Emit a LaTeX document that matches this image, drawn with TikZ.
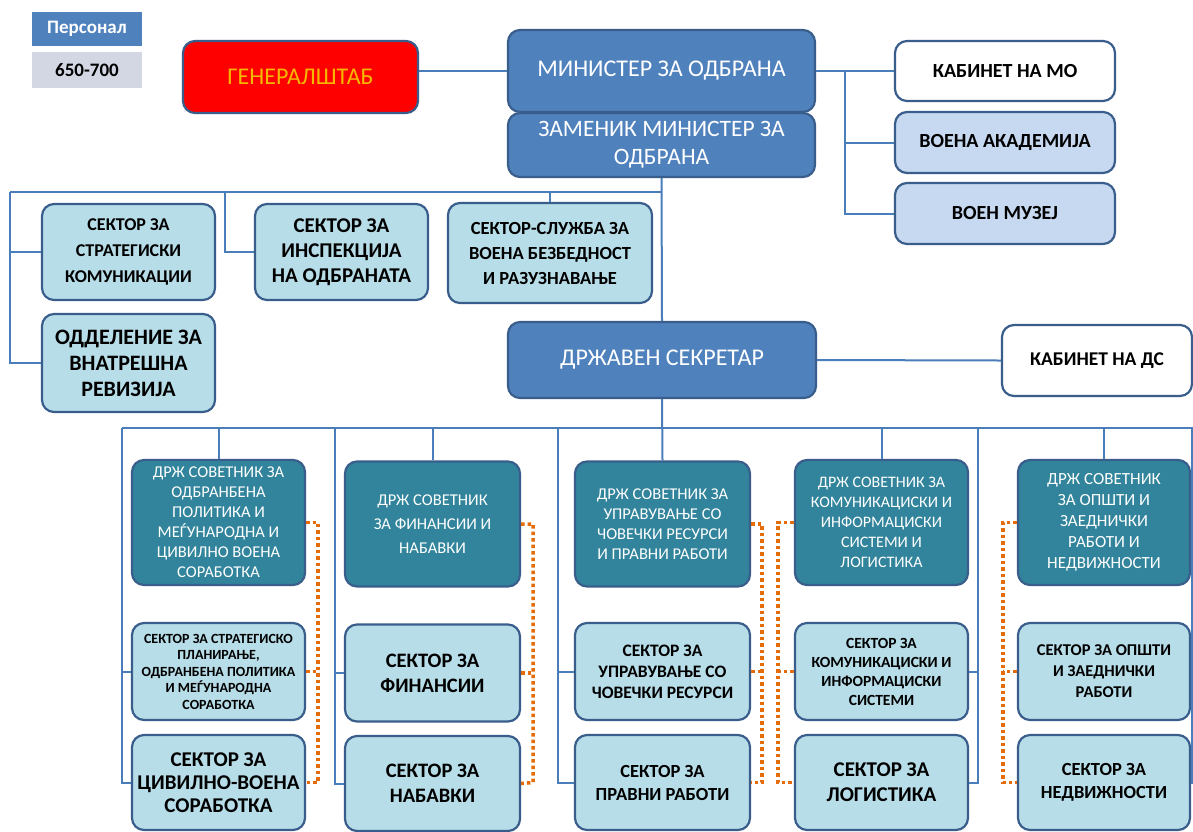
\documentclass[tikz,border=0pt]{standalone}
\usepackage{fontspec}
\setmainfont{Carlito}
\usepackage{xcolor}
\usepackage{tikz}
\usetikzlibrary{positioning,calc}

\definecolor{mainblue}{HTML}{4F81BD}
\definecolor{edgeblue}{HTML}{3A5E8C}
\definecolor{lineblue}{HTML}{4A7EBB}
\definecolor{advteal}{HTML}{31849B}
\definecolor{skyblue}{HTML}{B7DDE8}
\definecolor{paleblue}{HTML}{C6D9F1}
\definecolor{greyblue}{HTML}{D3D7E3}
\definecolor{gold}{HTML}{F5B800}
\definecolor{dotorange}{HTML}{E46C0A}

\newcommand{\fs}[2]{\fontsize{#1}{#2}\selectfont}

\begin{document}
\begin{tikzpicture}[
    x=1pt, y=-1pt,
    box/.style={draw=edgeblue, line width=2.2pt, rounded corners=12pt,
                fill=#1, align=center, inner sep=2pt},
    box/.default=white,
    sz/.style 2 args={minimum width=#1pt, minimum height=#2pt},
    chief/.style={box=mainblue, text=white, font=\fs{24}{28}},
    advisor/.style={box=advteal, text=white, font=\fs{16.5}{20}},
    sector/.style={box=skyblue, font=\bfseries\fs{18}{24}},
    office/.style={box=#1, font=\bfseries\fs{20}{24}},
    tag/.style={fill=#1, align=center, font=\bfseries\fs{19}{22}},
    link/.style={draw=lineblue, line width=2pt},
    dots/.style={draw=dotorange, line width=3.5pt, dash pattern=on 3.5pt off 3pt},
  ]
  \path[use as bounding box, fill=white] (0,0) rectangle (1193,831);

  % Legend
  \node[tag=mainblue, text=white, sz={110}{34}] (pers) at (87,29) {Персонал};
  \node[tag=greyblue, sz={110}{36}] (staff) at (87,70) {650-700};

  % Ministry
  \node[box=red, text=gold, font=\fs{24}{28}, sz={235}{72}] (gs) at (300.5,77) {ГЕНЕРАЛШТАБ};
  \node[chief, sz={307}{82}] (min) at (661.5,71) {МИНИСТЕР ЗА ОДБРАНА};
  \node[chief, font=\fs{23.5}{28}, sz={307}{64}] (dep) at (661.5,145) {ЗАМЕНИК МИНИСТЕР ЗА\\ОДБРАНА};
  \node[office=white, sz={220}{60}] (kmo) at (1005,71) {КАБИНЕТ НА МО};
  \node[office=paleblue, sz={220}{61}] (akad) at (1005,142.5) {ВОЕНА АКАДЕМИЈА};
  \node[office=paleblue, sz={220}{61}] (muz) at (1005,213.5) {ВОЕН МУЗЕЈ};

  % Sectors under the minister
  \node[sector, font=\bfseries\fs{18}{26}, sz={173}{96}] (skom) at (128.5,252) {СЕКТОР ЗА\\СТРАТЕГИСКИ\\КОМУНИКАЦИИ};
  \node[sector, font=\bfseries\fs{21}{25}, sz={173}{96}] (insp) at (341.5,252) {СЕКТОР ЗА\\ИНСПЕКЦИЈА\\НА ОДБРАНАТА};
  \node[sector, font=\bfseries\fs{18.5}{25}, sz={204}{100}] (sluz) at (550,253) {СЕКТОР-СЛУЖБА ЗА\\ВОЕНА БЕЗБЕДНОСТ\\И РАЗУЗНАВАЊЕ};
  \node[sector, font=\bfseries\fs{22}{26}, sz={173}{98}] (rev) at (128.5,363) {ОДДЕЛЕНИЕ ЗА\\ВНАТРЕШНА\\РЕВИЗИЈА};

  % State secretary
  \node[chief, sz={308}{76}] (ds) at (662,360) {ДРЖАВЕН СЕКРЕТАР};
  \node[office=white, font=\bfseries\fs{19.5}{24}, sz={190}{71}] (kds) at (1097,360.5) {КАБИНЕТ НА ДС};

  % Advisors
  \node[advisor, sz={173}{125}] (adv1) at (218.5,522.5) {ДРЖ СОВЕТНИК ЗА\\ОДБРАНБЕНА\\ПОЛИТИКА И\\МЕЃУНАРОДНА И\\ЦИВИЛНО ВОЕНА\\СОРАБОТКА};
  \node[advisor, font=\fs{16.5}{24}, sz={175}{125}] (adv2) at (432.5,524) {ДРЖ СОВЕТНИК\\ЗА ФИНАНСИИ И\\НАБАВКИ};
  \node[advisor, font=\fs{16.5}{20}, sz={175}{125}] (adv3) at (662.5,524) {ДРЖ СОВЕТНИК ЗА\\УПРАВУВАЊЕ СО\\ЧОВЕЧКИ РЕСУРСИ\\И ПРАВНИ РАБОТИ};
  \node[advisor, font=\fs{16}{20}, sz={173}{125}] (adv4) at (881.5,522.5) {ДРЖ СОВЕТНИК ЗА\\КОМУНИКАЦИСКИ И\\ИНФОРМАЦИСКИ\\СИСТЕМИ И\\ЛОГИСТИКА};
  \node[advisor, font=\fs{17}{21}, sz={172}{125}] (adv5) at (1104,522.5) {ДРЖ СОВЕТНИК\\ЗА ОПШТИ И\\ЗАЕДНИЧКИ\\РАБОТИ И\\НЕДВИЖНОСТИ};

  % Sectors under the advisors
  \node[sector, font=\bfseries\fs{14}{16.5}, sz={173}{97}] (s1a) at (218.5,671.5)
    {СЕКТОР ЗА СТРАТЕГИСКО\\ПЛАНИРАЊЕ,\\ОДБРАНБЕНА ПОЛИТИКА\\И МЕЃУНАРОДНА\\СОРАБОТКА};
  \node[sector, font=\bfseries\fs{21}{23}, sz={173}{95}] (s1b) at (218.5,782.5) {СЕКТОР ЗА\\ЦИВИЛНО-ВОЕНА\\СОРАБОТКА};
  \node[sector, font=\bfseries\fs{20.5}{25}, sz={175}{97}] (s2a) at (432.5,673) {СЕКТОР ЗА\\ФИНАНСИИ};
  \node[sector, font=\bfseries\fs{20.5}{25}, sz={175}{95}] (s2b) at (432.5,783.5) {СЕКТОР ЗА\\НАБАВКИ};
  \node[sector, font=\bfseries\fs{17.5}{21}, sz={175}{97}] (s3a) at (662.5,671.5) {СЕКТОР ЗА\\УПРАВУВАЊЕ СО\\ЧОВЕЧКИ РЕСУРСИ};
  \node[sector, font=\bfseries\fs{18.5}{23}, sz={175}{95}] (s3b) at (662.5,782.5) {СЕКТОР ЗА\\ПРАВНИ РАБОТИ};
  \node[sector, font=\bfseries\fs{15.5}{19}, sz={173}{97}] (s4a) at (881.5,671.5) {СЕКТОР ЗА\\КОМУНИКАЦИСКИ И\\ИНФОРМАЦИСКИ\\СИСТЕМИ};
  \node[sector, font=\bfseries\fs{21}{25}, sz={173}{95}] (s4b) at (881.5,782.5) {СЕКТОР ЗА\\ЛОГИСТИКА};
  \node[sector, font=\bfseries\fs{16.5}{21}, sz={172}{97}] (s5a) at (1104,671.5) {СЕКТОР ЗА ОПШТИ\\И ЗАЕДНИЧКИ\\РАБОТИ};
  \node[sector, font=\bfseries\fs{18.5}{23}, sz={172}{95}] (s5b) at (1104,782.5) {СЕКТОР ЗА\\НЕДВИЖНОСТИ};

  % Top links
  \draw[link] (gs.east |- min.west) -- (min.west);
  \draw[link] (min.east) -- (kmo.west);
  \coordinate (rbus) at (845,71);
  \draw[link] (rbus) |- (akad.west);
  \draw[link] (rbus) |- (muz.west);

  \coordinate (tbus) at (661.5,192);
  \coordinate (tl) at (10,192);
  \coordinate (ti) at (225,192);
  \draw[link] (dep.south) -- (ds.north);
  \draw[link] (tl) -- (tbus);
  \draw[link] (tl) |- (rev.west);
  \draw[link] (tl |- skom.west) -- (skom.west);
  \draw[link] (ti) |- (insp.west);
  \draw[link] (sluz.north) -- (sluz.north |- tbus);
  \draw[link] (ds.east) -- (kds.west);

  % Bottom links
  \coordinate (bl) at (122,428);
  \coordinate (br) at (1193,428);
  \draw[link] (bl) -- (br);
  \draw[link] (ds.south) -- (adv3.north);
  \foreach \n in {1,2,4,5}
    \draw[link] (adv\n.north) -- (adv\n.north |- bl);
  \coordinate (t1) at (122,428);
  \coordinate (t2) at (335,428);
  \coordinate (t3) at (558,428);
  \coordinate (t4) at (978,428);
  \coordinate (t5) at (1192,428);
  \foreach \n in {1,2,3} {
    \draw[link] (t\n) |- (s\n b.west);
    \draw[link] (t\n |- s\n a.west) -- (s\n a.west);
  }
  \foreach \n in {4,5} {
    \draw[link] (t\n) |- (s\n b.east);
    \draw[link] (t\n |- s\n a.east) -- (s\n a.east);
  }

  % Dotted advisor links
  \coordinate (o1) at (318,782.5);
  \coordinate (o2) at (533,782.5);
  \coordinate (o3) at (762,782.5);
  \coordinate (o4) at (778,782.5);
  \coordinate (o5) at (1003,782.5);
  \foreach \n in {1,2,3} {
    \draw[dots] (adv\n.east) -| (o\n) -- (s\n b.east);
    \draw[dots] (s\n a.east) -- (s\n a.east -| o\n);
  }
  \foreach \n in {4,5} {
    \draw[dots] (adv\n.west) -| (o\n) -- (s\n b.west);
    \draw[dots] (s\n a.west) -- (s\n a.west -| o\n);
  }
\end{tikzpicture}
\end{document}
